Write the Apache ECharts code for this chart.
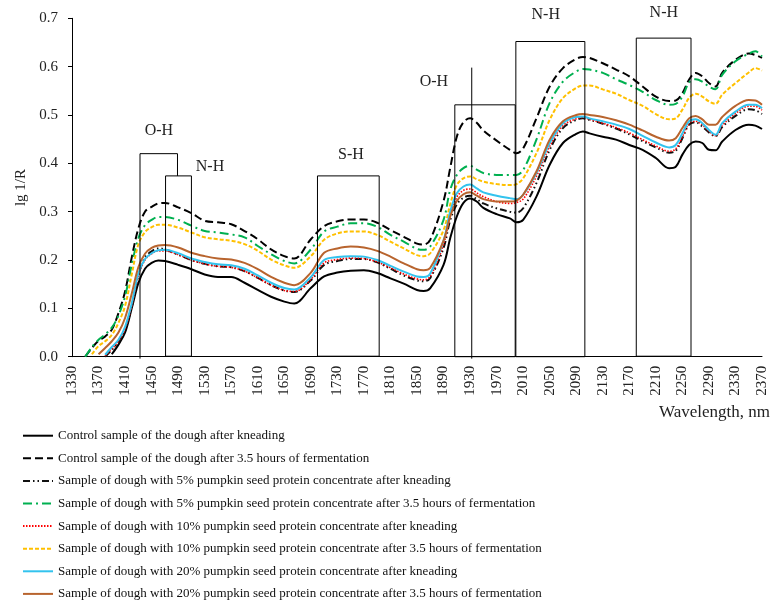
<!DOCTYPE html>
<html>
<head>
<meta charset="utf-8">
<script src="https://cdn.jsdelivr.net/npm/echarts@6/dist/echarts.min.js"></script>
<style>html,body{margin:0;padding:0;background:#fff}#chart{width:782px;height:604px}</style>
</head>
<body>
<div id="chart"></div>
<script>
// Wavelength grid (nm)
const wavelengths = [1350,1360,1370,1380,1390,1400,1410,1420,1430,1440,1450,1460,1470,1490,1510,1530,1550,1570,1590,1610,1630,1650,1665,1690,1710,1730,1750,1770,1790,1810,1830,1850,1860,1870,1890,1900,1910,1920,1930,1940,1950,1970,1990,2000,2010,2030,2050,2070,2090,2100,2110,2130,2150,2170,2190,2210,2230,2240,2250,2260,2270,2280,2290,2300,2310,2330,2350,2360,2370];

const seriesNames = [
  'Control sample of the dough after kneading',
  'Control sample of the dough after 3.5 hours of fermentation',
  'Sample of dough with 5% pumpkin seed protein concentrate after kneading',
  'Sample of dough with 5% pumpkin seed protein concentrate after 3.5 hours of fermentation',
  'Sample of dough with 10% pumpkin seed protein concentrate after kneading',
  'Sample of dough with 10% pumpkin seed protein concentrate after 3.5 hours of fermentation',
  'Sample of dough with 20% pumpkin seed protein concentrate after kneading',
  'Sample of dough with 20% pumpkin seed protein concentrate after 3.5 hours of fermentation'
];

const controlKneading = [null,null,null,null,0.005,0.025,0.05,0.10,0.152,0.182,0.194,0.199,0.198,0.19,0.181,0.17,0.165,0.165,0.153,0.138,0.124,0.114,0.110,0.142,0.166,0.174,0.178,0.179,0.173,0.162,0.151,0.138,0.136,0.142,0.19,0.245,0.29,0.318,0.327,0.321,0.308,0.295,0.286,0.278,0.283,0.331,0.397,0.442,0.461,0.466,0.462,0.455,0.449,0.438,0.428,0.411,0.39,0.393,0.418,0.438,0.445,0.442,0.428,0.427,0.445,0.469,0.48,0.478,0.471];
const controlFermentation = [0.0,0.018,0.033,0.042,0.056,0.09,0.135,0.205,0.265,0.300,0.31,0.317,0.318,0.309,0.297,0.281,0.278,0.274,0.26,0.243,0.222,0.208,0.203,0.243,0.27,0.28,0.284,0.284,0.277,0.262,0.248,0.234,0.232,0.242,0.322,0.39,0.455,0.485,0.493,0.484,0.468,0.447,0.428,0.421,0.431,0.493,0.559,0.597,0.616,0.62,0.618,0.607,0.594,0.58,0.559,0.538,0.529,0.53,0.545,0.573,0.587,0.58,0.566,0.559,0.587,0.614,0.627,0.624,0.618];
const pct5Kneading = [null,null,null,0.0,0.014,0.03,0.056,0.103,0.168,0.205,0.218,0.224,0.222,0.211,0.2,0.192,0.187,0.185,0.177,0.163,0.148,0.137,0.134,0.158,0.19,0.198,0.202,0.202,0.195,0.182,0.168,0.158,0.156,0.163,0.225,0.282,0.315,0.329,0.333,0.326,0.317,0.307,0.30,0.298,0.307,0.359,0.428,0.473,0.49,0.493,0.49,0.482,0.472,0.46,0.446,0.433,0.422,0.426,0.452,0.48,0.485,0.476,0.464,0.456,0.475,0.498,0.512,0.51,0.502];
const pct5Fermentation = [0.0,0.02,0.035,0.046,0.06,0.085,0.125,0.19,0.245,0.272,0.283,0.289,0.289,0.283,0.271,0.26,0.257,0.253,0.247,0.229,0.212,0.198,0.193,0.222,0.259,0.269,0.276,0.276,0.269,0.252,0.238,0.223,0.221,0.228,0.283,0.345,0.376,0.39,0.395,0.387,0.38,0.376,0.376,0.376,0.386,0.449,0.525,0.569,0.59,0.595,0.594,0.587,0.574,0.562,0.548,0.531,0.521,0.523,0.538,0.567,0.574,0.569,0.559,0.553,0.583,0.611,0.627,0.632,0.621];
const pct10Kneading = [null,null,null,0.002,0.016,0.032,0.058,0.105,0.168,0.2,0.213,0.219,0.219,0.211,0.2,0.192,0.187,0.185,0.177,0.163,0.148,0.137,0.135,0.16,0.194,0.201,0.204,0.203,0.196,0.184,0.171,0.161,0.159,0.166,0.232,0.292,0.33,0.344,0.347,0.339,0.331,0.321,0.317,0.319,0.326,0.373,0.435,0.478,0.492,0.495,0.491,0.483,0.474,0.463,0.449,0.436,0.425,0.43,0.455,0.482,0.487,0.48,0.466,0.457,0.478,0.503,0.518,0.518,0.51];
const pct10Fermentation = [null,0.005,0.022,0.032,0.045,0.07,0.105,0.17,0.232,0.258,0.268,0.273,0.273,0.267,0.257,0.247,0.243,0.24,0.233,0.219,0.201,0.189,0.184,0.208,0.242,0.255,0.259,0.259,0.252,0.238,0.224,0.210,0.208,0.214,0.262,0.315,0.355,0.369,0.373,0.367,0.362,0.357,0.355,0.357,0.369,0.421,0.49,0.535,0.556,0.561,0.561,0.553,0.544,0.531,0.519,0.502,0.491,0.493,0.511,0.535,0.544,0.538,0.528,0.523,0.542,0.566,0.588,0.597,0.592];
const pct20Kneading = [null,null,null,0.004,0.02,0.035,0.062,0.11,0.172,0.202,0.214,0.22,0.221,0.214,0.203,0.196,0.191,0.189,0.182,0.168,0.153,0.142,0.139,0.165,0.2,0.206,0.208,0.207,0.2,0.188,0.176,0.166,0.165,0.172,0.24,0.30,0.338,0.352,0.356,0.348,0.34,0.333,0.328,0.326,0.335,0.38,0.442,0.483,0.496,0.497,0.493,0.487,0.48,0.471,0.457,0.443,0.433,0.438,0.462,0.487,0.491,0.483,0.469,0.459,0.483,0.507,0.521,0.521,0.514];
const pct20Fermentation = [null,null,0.005,0.018,0.032,0.05,0.08,0.13,0.185,0.213,0.225,0.23,0.231,0.226,0.215,0.208,0.203,0.201,0.194,0.181,0.165,0.153,0.148,0.174,0.215,0.224,0.228,0.226,0.219,0.207,0.193,0.181,0.179,0.184,0.24,0.29,0.322,0.336,0.34,0.333,0.326,0.321,0.321,0.323,0.335,0.383,0.449,0.487,0.5,0.502,0.50,0.496,0.489,0.48,0.468,0.455,0.447,0.452,0.473,0.493,0.498,0.491,0.48,0.48,0.496,0.519,0.531,0.53,0.521];

// Band annotation outlines: [wavelength, lg 1/R] vertices
const bandOutlines = [
  [[1432.5,-0.004],[1432.5,0.42],[1489,0.42],[1489,0.374]],
  [[1471,0.001],[1471,0.374],[1510,0.374],[1510,0.001],[1471,0.001]],
  [[1700,0.001],[1700,0.374],[1793,0.374],[1793,0.001],[1700,0.001]],
  [[1907,0],[1907,0.521],[1998,0.521],[1998,0],[1907,0]],
  [[1932.5,-0.004],[1932.5,0.598]],
  [[1999,0],[1999,0.652],[2103,0.652],[2103,0],[1999,0]],
  [[2180.5,0.001],[2180.5,0.659],[2263,0.659],[2263,0.001],[2180.5,0.001]]
];
const bandLabels = ['O-H','N-H','S-H','O-H','N-H','N-H'];
const bandLabelAt = [[1461,0.467],[1538,0.393],[1750.5,0.418],[1875.5,0.569],[2044,0.707],[2222,0.711]];

const FONT = 'Liberation Serif';
const valueSets = [controlKneading,controlFermentation,pct5Kneading,pct5Fermentation,pct10Kneading,pct10Fermentation,pct20Kneading,pct20Fermentation];
const styles = [
  {color:'#000000', width:2, type:'solid'},
  {color:'#000000', width:2, type:[8,4]},
  {color:'#111111', width:2, type:[7,3,1.5,3,1.5,3]},
  {color:'#00b050', width:2, type:[9,4,2,4]},
  {color:'#ff0000', width:1.6, type:[1.5,1.5]},
  {color:'#ffc000', width:2, type:[4,2]},
  {color:'#33c3ee', width:2, type:'solid'},
  {color:'#b8642e', width:2, type:'solid'}
];

function pairs(vals){
  const out = [];
  for (let i=0;i<wavelengths.length;i++){ if (vals[i]!==null) out.push([wavelengths[i], vals[i]]); }
  return out;
}

const lineSeries = valueSets.map((vals,i)=>({
  name: seriesNames[i],
  type:'line',
  data: pairs(vals),
  smooth: 0.35,
  symbol:'none',
  z: 3,
  lineStyle:{color:styles[i].color, width:styles[i].width, type:styles[i].type},
  itemStyle:{color:styles[i].color}
}));

const annotSeries = {
  type:'custom',
  silent:true,
  z: 4,
  data: bandOutlines.map(o=>o[0]),
  renderItem: function(params, api){
    const pts = bandOutlines[params.dataIndex].map(p=>api.coord(p));
    return {type:'polyline', shape:{points:pts}, style:{stroke:'#000', lineWidth:1, fill:null}};
  }
};
const labelSeries = {
  type:'custom',
  silent:true,
  z: 4,
  data: bandLabelAt,
  renderItem: function(params, api){
    const c = api.coord(bandLabelAt[params.dataIndex]);
    return {type:'text', x:c[0], y:c[1], style:{text:bandLabels[params.dataIndex], font:'16px "'+FONT+'"', fill:'#222', align:'center', verticalAlign:'middle'}};
  }
};

const chart = echarts.init(document.getElementById('chart'), null, {renderer:'canvas'});
chart.setOption({
  animation:false,
  backgroundColor:'#fff',
  grid:{left:72, right:20, top:18.3, bottom:247.3},
  xAxis:{
    type:'value', min:1330, max:2370, interval:40,
    axisLine:{lineStyle:{color:'#000', width:1}},
    axisTick:{show:false},
    splitLine:{show:false},
    axisLabel:{rotate:90, margin:9, fontFamily:FONT, fontSize:15, color:'#222', formatter:v=>String(v)}
  },
  yAxis:{
    type:'value', min:0, max:0.7, interval:0.1,
    name:'lg 1/R', nameLocation:'middle', nameGap:37,
    nameTextStyle:{fontFamily:FONT, fontSize:15, color:'#222'},
    axisLine:{show:true, lineStyle:{color:'#000', width:1}},
    axisTick:{show:true, length:4, lineStyle:{color:'#000'}},
    splitLine:{show:false},
    axisLabel:{formatter:v=>v.toFixed(1), margin:14, fontFamily:FONT, fontSize:15, color:'#222'}
  },
  legend:{
    orient:'vertical', left:22, top:428.7, padding:0,
    itemWidth:30, itemHeight:14, itemGap:8.6,
    data: seriesNames,
    selectedMode:false,
    itemStyle:{opacity:0},
    textStyle:{fontFamily:FONT, fontSize:13, color:'#111', lineHeight:14}
  },
  graphic:[{type:'text', right:12, top:404, style:{text:'Wavelength, nm', font:'17px "'+FONT+'"', fill:'#222'}}],
  series: lineSeries.concat([annotSeries, labelSeries])
});
</script>
</body>
</html>
